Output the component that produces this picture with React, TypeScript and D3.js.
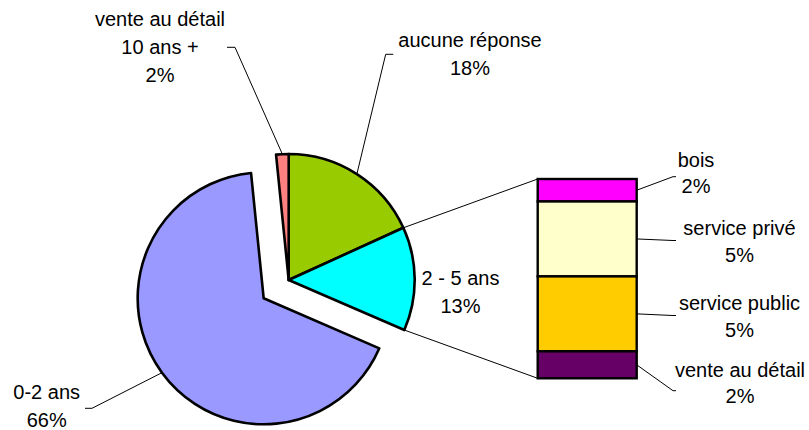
import React from "react";
import * as d3 from "d3";

// Pie categories (clockwise from 12 o'clock)
const pieCategories = ["aucune réponse", "2 - 5 ans", "0-2 ans", "vente au détail\n10 ans +"];
const piePercentLabels = ["18%", "13%", "66%", "2%"];
const pieColors = ["#99CC00", "#00FFFF", "#9999FF", "#FF8080"];

// Bar (breakdown of "2 - 5 ans")
const barCategories = ["bois", "service privé", "service public", "vente au détail"];
const barValues = [1.5, 5.0, 5.0, 1.8];
const barPercentLabels = ["2%", "5%", "5%", "2%"];
const barColors = ["#FF00FF", "#FFFFCC", "#FFCC00", "#660066"];

const otherValue = d3.sum(barValues);
const pieValues = [18.2, otherValue, 66.9, 1.6];

const W = 809;
const H = 430;
const FONT = "'Liberation Sans', Arial, sans-serif";

export default function App() {
  const cx = 288.7;
  const cy = 280;
  const r = 126;
  const explodeIdx = 2;
  const explode = 31;
  const otherIdx = 1;

  const pie = d3.pie<number>().sort(null).value((d) => d)(pieValues);
  const arc = d3.arc<d3.PieArcDatum<number>>().innerRadius(0).outerRadius(r);
  const rimArc = d3.arc<d3.PieArcDatum<number>>().innerRadius(r).outerRadius(r);

  const offsetOf = (i: number) => {
    if (i !== explodeIdx) return [0, 0];
    const a = (pie[i].startAngle + pie[i].endAngle) / 2;
    return [explode * Math.sin(a), -explode * Math.cos(a)];
  };
  const rimPoint = (i: number) => {
    const c = rimArc.centroid(pie[i]);
    const o = offsetOf(i);
    return [cx + c[0] + o[0], cy + c[1] + o[1]];
  };
  const anglePoint = (a: number) => [cx + r * Math.sin(a), cy - r * Math.cos(a)];

  // Bar
  const barX0 = 537.7;
  const barX1 = 636.7;
  const yScale = d3.scaleLinear().domain([0, otherValue]).range([179, 378.3]);
  const cum = [0, ...d3.cumsum(barValues)];

  const otherTop = anglePoint(pie[otherIdx].startAngle);
  const otherBot = anglePoint(pie[otherIdx].endAngle);

  // Label layouts (pie)
  const pieLabelLayout = [
    { x: 470, y: 46.7, leader: [[385.7, 54.3], [393.3, 54.3]] },
    { x: 460.5, y: 285, leader: null },
    { x: 46.7, y: 399.3, leader: [[92, 408.3], [85, 408.3]] },
    { x: 160, y: 26.3, leader: [[235, 47.3], [227, 47.3]] },
  ];
  const barLabelLayout = [
    { x: 696, y: 166.7, end: 176.7 },
    { x: 739.5, y: 235, end: 240.5 },
    { x: 739.5, y: 310, end: 315.5 },
    { x: 740, y: 376.7, end: 390.7 },
  ];
  const lineGap = 27.8;

  return (
    <svg
      width={W}
      height={H}
      style={{ position: "absolute", left: 0, top: 0, background: "#fff" }}
      fontFamily={FONT}
    >
      {/* connector lines */}
      <line x1={otherTop[0]} y1={otherTop[1]} x2={barX0} y2={yScale(0)} stroke="#000" strokeWidth={1} />
      <line x1={otherBot[0]} y1={otherBot[1]} x2={barX0} y2={yScale(otherValue)} stroke="#000" strokeWidth={1} />

      {/* pie slices */}
      {pie.map((p, i) => {
        const o = offsetOf(i);
        return (
          <path
            key={i}
            d={arc(p) || ""}
            transform={`translate(${cx + o[0]},${cy + o[1]})`}
            fill={pieColors[i]}
            stroke="#000"
            strokeWidth={2.6}
            strokeLinejoin="round"
          />
        );
      })}

      {/* bar segments */}
      {barValues.map((v, i) => (
        <rect
          key={i}
          x={barX0}
          y={yScale(cum[i])}
          width={barX1 - barX0}
          height={yScale(cum[i + 1]) - yScale(cum[i])}
          fill={barColors[i]}
          stroke="#000"
          strokeWidth={2.4}
        />
      ))}

      {/* pie leaders */}
      {pieLabelLayout.map((l, i) => {
        if (!l.leader) return null;
        const p = rimPoint(i);
        const pts = [p, ...l.leader];
        return (
          <polyline
            key={i}
            points={pts.map((q) => q.join(",")).join(" ")}
            fill="none"
            stroke="#000"
            strokeWidth={1}
          />
        );
      })}

      {/* bar leaders */}
      {barLabelLayout.map((l, i) => {
        const my = yScale((cum[i] + cum[i + 1]) / 2);
        return (
          <polyline
            key={i}
            points={`${barX1},${my} ${673},${l.end} ${676},${l.end}`}
            fill="none"
            stroke="#000"
            strokeWidth={1}
          />
        );
      })}

      {/* pie labels */}
      {pieLabelLayout.map((l, i) => {
        const lines = [...pieCategories[i].split("\n"), piePercentLabels[i]];
        return (
          <text key={i} x={l.x} y={l.y} fontSize={20} textAnchor="middle" fill="#000">
            {lines.map((t, j) => (
              <tspan key={j} x={l.x} y={l.y + j * lineGap}>
                {t}
              </tspan>
            ))}
          </text>
        );
      })}

      {/* bar labels */}
      {barLabelLayout.map((l, i) => (
        <text key={i} x={l.x} y={l.y} fontSize={20} textAnchor="middle" fill="#000">
          <tspan x={l.x} y={l.y}>{barCategories[i]}</tspan>
          <tspan x={l.x} y={l.y + 26.7}>{barPercentLabels[i]}</tspan>
        </text>
      ))}
    </svg>
  );
}
